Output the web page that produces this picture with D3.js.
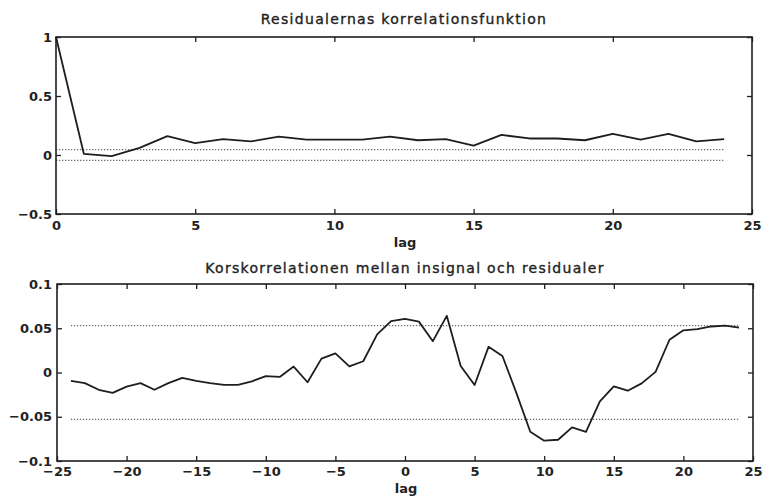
<!DOCTYPE html>
<html>
<head>
<meta charset="utf-8">
<script src="https://cdn.jsdelivr.net/npm/d3@7/dist/d3.min.js"></script>
<style>
  html, body { margin: 0; padding: 0; background: #fff; }
  svg { display: block; }
  .tick text { font-family: "DejaVu Sans", sans-serif; font-size: 13px; font-weight: bold; fill: #222; }
  .title { font-family: "DejaVu Sans", sans-serif; font-size: 14px; fill: #222; stroke: #222; stroke-width: 0.35px; letter-spacing: 1.3px; }
  .xlabel { font-family: "DejaVu Sans", sans-serif; font-size: 13px; font-weight: bold; fill: #222; }
</style>
</head>
<body>
<svg id="chart" width="769" height="500"></svg>
<script>
// Autocorrelation of the residuals, lags 0..24
const acfLags = d3.range(0, 25);
const acfValues = [1.0, 0.01, -0.01, 0.06, 0.16, 0.10, 0.135, 0.115, 0.155, 0.13,
                   0.13, 0.13, 0.155, 0.125, 0.135, 0.08, 0.17, 0.14, 0.14, 0.125,
                   0.18, 0.13, 0.18, 0.115, 0.135];
const acfConf = 0.045;

// Cross-correlation between input signal and residuals, lags -24..24
const ccfLags = d3.range(-24, 25);
const ccfValues = [-0.0094, -0.012, -0.0195, -0.023, -0.016, -0.012, -0.0195, -0.012, -0.006, -0.0095,
                   -0.012, -0.014, -0.014, -0.010, -0.004, -0.005, 0.0067, -0.011, 0.0157, 0.0216,
                   0.007, 0.0127, 0.043, 0.058, 0.0605, 0.0575, 0.0354, 0.064, 0.0074, -0.0142,
                   0.029, 0.0186, -0.023, -0.067, -0.077, -0.076, -0.062, -0.067, -0.0325, -0.0157,
                   -0.0206, -0.0123, 0.0007, 0.037, 0.0477, 0.049, 0.052, 0.053, 0.0507];
const ccfConf = 0.053;

// Tick values and labels
const acfXTicks = [0, 5, 10, 15, 20, 25];
const acfYTicks = [-0.5, 0, 0.5, 1];
const acfYLabels = ["\u22120.5", "0", "0.5", "1"];
const ccfXTicks = [-25, -20, -15, -10, -5, 0, 5, 10, 15, 20, 25];
const ccfXLabels = ["\u221225", "\u221220", "\u221215", "\u221210", "\u22125", "0", "5", "10", "15", "20", "25"];
const ccfYTicks = [-0.1, -0.05, 0, 0.05, 0.1];
const ccfYLabels = ["\u22120.1", "\u22120.05", "0", "0.05", "0.1"];

const titles = ["Residualernas korrelationsfunktion", "Korskorrelationen mellan insignal och residualer"];

const svg = d3.select("#chart");
const ink = "#1e1e1e";

function panel(cfg) {
  const x = d3.scaleLinear().domain(cfg.xDomain).range([cfg.left, cfg.right]);
  const y = d3.scaleLinear().domain(cfg.yDomain).range([cfg.bottom, cfg.top]);
  const g = svg.append("g");

  // confidence bounds
  [cfg.conf, -cfg.conf].forEach(c => {
    g.append("line")
      .attr("x1", x(d3.min(cfg.lags))).attr("x2", x(d3.max(cfg.lags)))
      .attr("y1", y(c)).attr("y2", y(c))
      .attr("stroke", "#6a6a6a").attr("stroke-width", 1.2)
      .attr("stroke-dasharray", "1.3,1.7");
  });

  // correlation curve
  const line = d3.line().x((d, i) => x(cfg.lags[i])).y(d => y(d));
  g.append("path").datum(cfg.values)
    .attr("d", line).attr("fill", "none")
    .attr("stroke", ink).attr("stroke-width", 1.8).attr("stroke-linejoin", "round");

  // axes with inward ticks on all four sides
  const xLab = cfg.xLabels ? (d, i) => cfg.xLabels[i] : d3.format("d");
  const yLab = (d, i) => cfg.yLabels[i];

  const ax = g.append("g").attr("transform", `translate(0,${cfg.bottom})`)
    .call(d3.axisBottom(x).tickValues(cfg.xTicks).tickFormat(xLab).tickSize(-5).tickSizeOuter(0).tickPadding(cfg.xPad));
  const axTop = g.append("g").attr("transform", `translate(0,${cfg.top})`)
    .call(d3.axisTop(x).tickValues(cfg.xTicks).tickFormat("").tickSize(-5).tickSizeOuter(0));
  const ay = g.append("g").attr("transform", `translate(${cfg.left},0)`)
    .call(d3.axisLeft(y).tickValues(cfg.yTicks).tickFormat(yLab).tickSize(-5).tickSizeOuter(0).tickPadding(cfg.yPad));
  const ayR = g.append("g").attr("transform", `translate(${cfg.right},0)`)
    .call(d3.axisRight(y).tickValues(cfg.yTicks).tickFormat("").tickSize(-5).tickSizeOuter(0));

  [ax, axTop, ay, ayR].forEach(a => {
    a.select(".domain").remove();
    a.selectAll(".tick line").attr("stroke", ink).attr("stroke-width", 1.3);
    a.attr("font-family", null).attr("font-size", null);
  });

  g.append("rect")
    .attr("x", cfg.left).attr("y", cfg.top)
    .attr("width", cfg.right - cfg.left).attr("height", cfg.bottom - cfg.top)
    .attr("fill", "none").attr("stroke", ink).attr("stroke-width", 1.6);

  g.append("text").attr("class", "title")
    .attr("x", (cfg.left + cfg.right) / 2).attr("y", cfg.titleY)
    .attr("text-anchor", "middle").text(cfg.title);

  g.append("text").attr("class", "xlabel")
    .attr("x", (cfg.left + cfg.right) / 2 + 1).attr("y", cfg.labelY)
    .attr("text-anchor", "middle").text("lag");
}

panel({
  lags: acfLags, values: acfValues, conf: acfConf,
  xDomain: [0, 25], yDomain: [-0.5, 1],
  left: 56, right: 752, top: 37, bottom: 214,
  xTicks: acfXTicks, yTicks: acfYTicks, yLabels: acfYLabels,
  xPad: 7, yPad: 4,
  title: titles[0], titleY: 24, labelY: 247
});

panel({
  lags: ccfLags, values: ccfValues, conf: ccfConf,
  xDomain: [-25, 25], yDomain: [-0.1, 0.1],
  left: 57, right: 753, top: 284, bottom: 461,
  xTicks: ccfXTicks, xLabels: ccfXLabels, yTicks: ccfYTicks, yLabels: ccfYLabels,
  xPad: 6, yPad: 5,
  title: titles[1], titleY: 273, labelY: 493
});
</script>
</body>
</html>
